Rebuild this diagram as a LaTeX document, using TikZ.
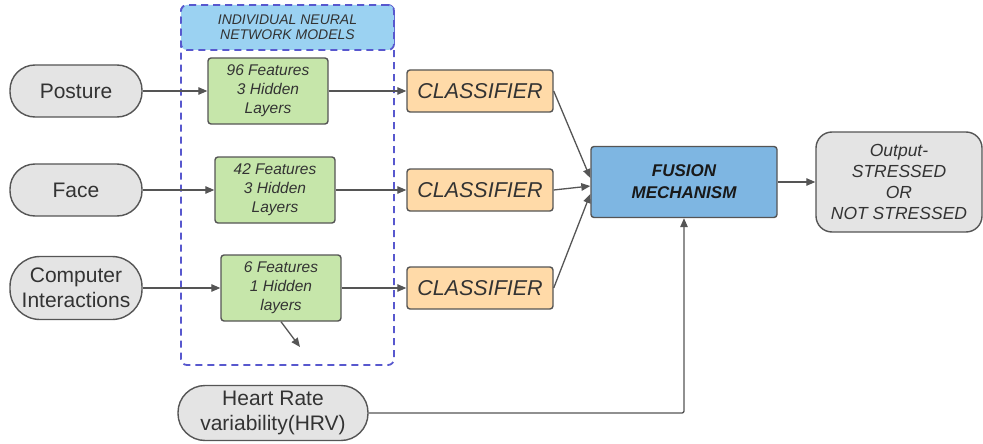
\documentclass[tikz,border=0pt]{standalone}
\usepackage{fontspec}
\setmainfont{Liberation Sans}
\usetikzlibrary{positioning, arrows.meta}

\definecolor{pillgray}{RGB}{228,228,228}
\definecolor{edgegray}{RGB}{85,85,85}
\definecolor{textgray}{RGB}{51,51,51}
\definecolor{nngreen}{RGB}{198,230,170}
\definecolor{clsorange}{RGB}{255,218,168}
\definecolor{fusionblue}{RGB}{126,182,226}
\definecolor{headblue}{RGB}{155,210,242}
\definecolor{dashblue}{RGB}{88,88,206}

\begin{document}
\begin{tikzpicture}[x=1pt, y=-1pt,
    pill/.style={rectangle, rounded corners=25pt, draw=edgegray, line width=1.4pt,
                 fill=pillgray, text=textgray, align=center, inner sep=0pt,
                 minimum width=132pt, minimum height=52pt,
                 font=\fontsize{21}{25}\selectfont},
    nnbox/.style={rectangle, rounded corners=3pt, draw=edgegray, line width=1.4pt,
                  fill=nngreen, text=textgray, align=center, inner sep=0pt,
                  minimum width=120pt, minimum height=66pt,
                  font=\fontsize{15.5}{19}\selectfont\itshape},
    clsbox/.style={rectangle, rounded corners=3pt, draw=edgegray, line width=1.4pt,
                   fill=clsorange, text=textgray, inner sep=0pt,
                   minimum width=146pt, minimum height=42pt,
                   font=\fontsize{21.5}{25}\selectfont\itshape},
    dashbox/.style={rectangle, rounded corners=6pt, draw=dashblue, line width=1.8pt,
                    dash pattern=on 7pt off 5pt, inner sep=0pt},
    arrow/.style={-{Triangle[length=9pt, width=7.5pt]}, draw=edgegray, line width=1.3pt}
]
    \useasboundingbox (0,0) rectangle (983,444);

    % Neural network group
    \node[dashbox, minimum width=213pt, minimum height=360pt] (models) at (287.5, 185) {};
    \node[dashbox, fill=headblue, minimum width=213pt, minimum height=45pt,
          text=textgray, align=center, font=\fontsize{14}{15.5}\selectfont\itshape]
          (header) at (287.5, 27.5) {INDIVIDUAL NEURAL\\NETWORK MODELS};

    % Inputs
    \node[pill] (posture) at (76, 91) {Posture};
    \node[pill] (face) at (76, 190) {Face};
    \node[pill, rounded corners=30pt, minimum height=63pt] (comp) at (76, 288) {Computer\\Interactions};
    \node[pill, rounded corners=27pt, minimum width=190pt, minimum height=55pt] (hrv) at (273, 413) {Heart Rate\\variability(HRV)};

    % Network models
    \node[nnbox] (nn1) at (268, 91) {96 Features\\3 Hidden\\Layers};
    \node[nnbox] (nn2) at (275, 190) {42 Features\\3 Hidden\\Layers};
    \node[nnbox] (nn3) at (281, 288) {6 Features\\1 Hidden\\layers};
    \coordinate (nnout) at (300, 347);

    % Classifiers
    \node[clsbox] (cls1) at (480, 91) {CLASSIFIER};
    \node[clsbox] (cls2) at (480, 190) {CLASSIFIER};
    \node[clsbox] (cls3) at (480, 288) {CLASSIFIER};

    % Fusion and output
    \node[rectangle, rounded corners=3pt, draw=edgegray, line width=1.4pt, fill=fusionblue,
          minimum width=186pt, minimum height=71pt, align=center, text=black!90,
          font=\fontsize{17}{22}\selectfont\bfseries\itshape] (fusion) at (684, 182) {FUSION\\MECHANISM};
    \node[rectangle, rounded corners=16pt, draw=edgegray, line width=1.4pt, fill=pillgray,
          minimum width=166pt, minimum height=100pt, align=center, text=textgray,
          font=\fontsize{17.5}{21}\selectfont\itshape] (output) at (899, 182) {Output-\\STRESSED\\OR\\NOT STRESSED};

    % Forward path arrows
    \draw[arrow] (posture) -- (nn1);
    \draw[arrow] (face) -- (nn2);
    \draw[arrow] (comp) -- (nn3);
    \draw[arrow] (nn1) -- (cls1);
    \draw[arrow] (nn2) -- (cls2);
    \draw[arrow] (nn3) -- (cls3);
    \draw[arrow] (nn3.south) -- (nnout);
    \draw[arrow] (cls1.east) -- ([yshift=4pt]fusion.west);
    \draw[arrow] (cls2.east) -- ([yshift=-4pt]fusion.west);
    \draw[arrow] (cls3.east) -- ([yshift=-12pt]fusion.west);
    \draw[arrow] (fusion) -- (output);

    % HRV path
    \draw[arrow, rounded corners=2pt] (hrv.east) -| (fusion.south);

\end{tikzpicture}
\end{document}
